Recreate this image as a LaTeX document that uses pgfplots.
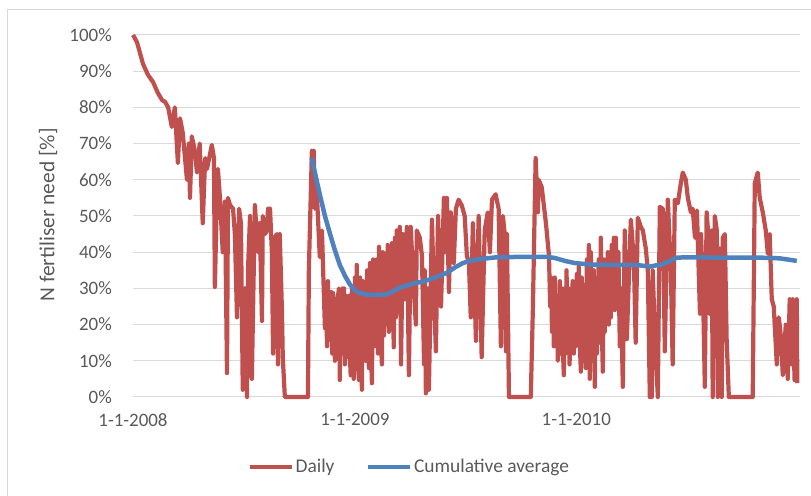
\documentclass[border=0pt]{standalone}
\usepackage{fontspec}
\setmainfont{Carlito}
\usepackage{pgfplots}
\pgfplotsset{compat=1.18}
\definecolor{exred}{HTML}{C0504D}
\definecolor{exblue}{HTML}{4F81BD}
\definecolor{gridc}{HTML}{D9D9D9}
\definecolor{txt}{HTML}{595959}
\begin{document}
\begin{tikzpicture}[x=1bp,y=1bp]
\useasboundingbox (0,0) rectangle (811,496);
\draw[gridc, line width=1bp] (7,0) -- (7,486) -- (811,486);
\begin{axis}[
  at={(133bp,99bp)}, anchor=south west, scale only axis,
  width=667bp, height=362bp,
  xmin=0, xmax=1100, ymin=0, ymax=100,
  clip=false,
  axis line style={draw=none},
  major tick length=0pt,
  ytick={0,10,...,100},
  ymajorgrids, major grid style={gridc, line width=1bp},
  xtick={0,366,731},
  xticklabels={1-1-2008,1-1-2009,1-1-2010},
  /pgf/number format/assume math mode=true,
  yticklabel={\pgfmathprintnumber{\tick}\%},
  yticklabel style={font=\fontsize{19}{19}\selectfont, text=txt, anchor=east, inner sep=0pt, xshift=-21bp},
  xticklabel style={font=\fontsize{19}{19}\selectfont, text=txt, anchor=north, inner sep=0pt, yshift=-16bp},
  ylabel={N fertiliser need [\%]},
  ylabel style={at={(axis description cs:-0.1274,0.503)}, anchor=center, font=\fontsize{21.5}{21.5}\selectfont, text=txt},
  legend columns=2,
  legend style={at={(axis description cs:0.414,-0.193)}, anchor=center, draw=none, fill=none,
    font=\fontsize{19.5}{19.5}\selectfont, text=txt, nodes={inner sep=1.5bp},
    /tikz/every even column/.append style={column sep=30bp}},
  legend image code/.code={\draw[#1] (0bp,0bp) -- (42bp,0bp);},
]
\addplot[exred, line width=4.2bp, line join=round] coordinates {
(0,100)(6.6,98)(16.5,92)(24.7,89)(33,87)(41,84)(48,82)(53,81.5)(58,80)(64,74.6)
(69,80)(74,64.6)(77.5,77)(82,73)(89,60)(92,70)(94,55)(97,72)(102,68)(105.5,62)
(110,70)(115,48)(119,66)(122,63)(130,69.6)(133.5,66)(135,30.4)(138.5,56)(140,63)(143.4,55)
(148,40)(151.7,54)(155,6.6)(156.6,55)(160,53)(165,52)(168,45)(171.5,22)(175,52)(178,48)
(181,2)(184.6,30)(188,0)(189.6,35)(193,50)(196,5)(201,53)(206,40)(209,48)(212.7,21)
(214,50)(217.6,45)(221,46)(222.6,52)(226,52)(229,40)(231,12)(234,44)(237,45)(239,9)
(242,45)(245.6,24)(247,11)(250.4,0)(288.5,0)(290,35)(295,68)(296.7,62)(298,68)(300,52)
(303,57)(308,38.7)(311.6,46)
(316.5,19)(318,30)(320,14)(321.5,32)(323,20)(325,15.7)(327,29)(328.5,12)(330,28.7)(333,10)
(334.5,27)(336,14)(337.5,27)(339.6,30)(341,4.7)(342.5,28)(344,12)(345.5,30)(347,18)(348,30)
(349.5,9)(351,28)(352.5,11)(354,25)(356,28)(357.5,12)(359,6)(361,30)(362.5,10)(364,5)
(366,33)(367.5,14)(369,36.5)(370.5,10)(372.6,4.7)(374.5,33)(376,15)(377.5,2)(379,32)(381,12)
(382.6,30)(384,10)(386,35)(387.5,22)(389,8)(390.7,37)(392,15)(394,3.8)(396,38)(397.5,14)
(399,37)(400.5,20)(402,38)(404,12)(405.6,41.5)(407.5,20)(410.5,9)(412,40)(414,17)(415.5,39.6)
(418.7,25)(420,42)(422,18)(424,30)(427,42.5)(430,13.7)(432,44)(433.5,22)(435,46)(437,30)
(440,47)(442,9)
(445,45)(448,27)(451.7,47)(455,6)(458,47)(463,30)(466.5,20)(468,46)(473,44)(476.5,39)
(480,9)(481,35)(483,1)(486,30)(488,2)(493,49)(496,30)(499.5,12.6)(503,50)(508,25)
(512.7,55)(516,40)(517.7,55)(521,29)(524,51)(529,37)(532.5,52)(537,54.5)(542,53)(547,50)
(550.6,39)(554,37)(557,22)(560.5,48)(565.5,15.5)(570,50)(575,11)(580,46)(585,51)(588.6,40)
(592,54.5)(598,56)(603,52)(606.7,14)(610,50)(613,45)(615,12.6)(616.6,45)(620,0)(656,0)
(659.4,24)(664,66)(667.7,51)(669,60)(674,58)(681,48)
(686,39)(688,25)(689.5,33)(691,18)(692.5,30)(694,14)(695.7,33)(697.5,16)(699,28)(700.5,10)
(702,12.6)(704,32)(705.5,12)(707,30)(708.5,15)(710.5,6)(712,30)(713.5,12)(715,35)(716.5,15)
(718,28)(720,9)(722,30)(723.5,14)(725,32)(727,12)(728.7,30)(730,14)(732,34)(733.6,18)
(735,36)(737,14)(738.6,7)(740,33)(742,15)(743.5,31)(745,14)(746.8,8)(748.5,38)(750,20)
(751.8,42)(753.4,5)(755,40)(756.7,20)(758,10)(760,35)(761.6,2.8)(763,28)(765,12)(766.6,27)
(768,38)(769.5,15)(771.5,44)(773,20)(774.8,7)(776.5,38)(778,18)(779.8,36)(781.5,22)(783,40)
(784.7,20)(786.5,40)(788,22)(789.5,42)(791.3,25)(793,44)(794.5,24)(796.3,44)(798.5,30)(800.5,40)
(802.8,14)(804.5,30)(807.8,2.8)
(811,46)(814.4,16)(821,49)(826,38)(829,15)(832.5,49.5)(837.5,47)(840.8,46)(845.7,41)(849,35)
(852.3,0)(855.6,0)(857,35)(860.6,18)(865.5,0)(868.8,52.5)(873.8,52)(877,12.6)(882,54.5)(887,35)
(890,9)(893.5,54.5)(898.5,53.5)(903.4,59)(906.7,62)(911.7,60)(915,55)(920,51)(923,52)(926.8,44)
(930,51.5)(935,23)(936.7,45)(940,30)(943,2.8)(946,51)(949.6,43)(951,23)(954.5,46)(956,0)
(959.5,50)(962.8,46)(964.5,0)(967.7,41)(971,0)(972.7,44)(976,45)(979,16)(982.6,0)(1022,0)
(1025.4,59)(1030.3,62)(1033.6,55)(1038.6,51)(1043.5,46)(1046.9,39.6)(1050,45)(1053.4,27)(1056.7,25)(1061.7,9)
(1065,22)(1068.3,17)(1071.6,6)(1076.5,20)(1079.8,5)(1083,27)(1086.5,9)(1088,27)(1091,4.7)(1094.7,27)
(1095.5,3.8)
};
\addlegendentry{Daily}
\addplot[exblue, line width=4.5bp, line join=round] coordinates {
(294.5,66)(300,62)(308,56)(316.5,50)(325,45)(333,40.5)(341,36.5)(349.5,33.5)(358,31)(366,29.5)
(374,28.7)(386,28.3)(399,28.2)(415.5,28.3)(423.7,28.7)(432,29.5)(440,30.2)(451.7,30.8)(465,31.5)(476.5,31.8)
(489.6,32.5)(506,33.5)(517.7,34.3)(531,35.8)(544,37)(555.6,37.6)(572,38.1)(600,38.6)(638,38.7)(682.5,38.7)
(695.7,38.4)(712,37.6)(728.7,37)(753.4,36.6)(786.4,36.5)(827.6,36.5)(844,36.2)(852,36)(860.6,36.3)(872,36.6)
(885,37.5)(897,38.5)(918,38.6)(967.7,38.5)(1033.6,38.5)(1066.6,38.3)(1083,37.9)(1094.7,37.6)
};
\addlegendentry{Cumulative average}
\end{axis}
\end{tikzpicture}
\end{document}
